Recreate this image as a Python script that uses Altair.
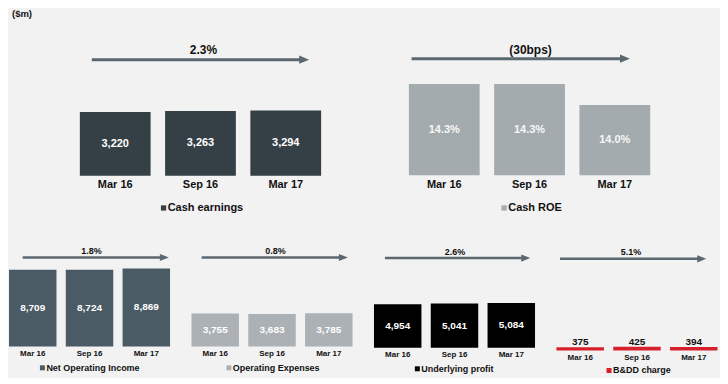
import altair as alt
import pandas as pd

# ---------------- data ----------------
PERIODS = ["Mar 16", "Sep 16", "Mar 17"]
CASH_EARNINGS = [3220, 3263, 3294]
CASH_ROE = [14.3, 14.3, 14.0]
NET_OPERATING_INCOME = [8709, 8724, 8869]
OPERATING_EXPENSES = [3755, 3683, 3785]
UNDERLYING_PROFIT = [4954, 5041, 5084]
BDD_CHARGE = [375, 425, 394]
CHANGES = ["2.3%", "(30bps)", "1.8%", "0.8%", "2.6%", "5.1%"]
SERIES_NAMES = ["Cash earnings", "Cash ROE", "Net Operating Income",
                "Operating Expenses", "Underlying profit", "B&DD charge"]
UNIT_NOTE = "($m)"

# ---------------- style ----------------
FONT = "Liberation Sans"
BG = "#f2f2f2"
ARROW = "#5b6870"
TEXT = "#111111"


def panel(name, values, change, color, *, width, height, ppu, baseline, base=0.0,
          pad_inner, pad_outer=0.0, align=0.5, pct=False,
          value_size, value_color="white", value_inside=True,
          cat_y, cat_size, legend_x, legend_y, legend_size, sq_size,
          arrow_x1, arrow_x2, arrow_y, change_x, change_y, change_size,
          head_size, head_ratio=0.8, arrow_width=3, note=None):
    df = pd.DataFrame({"period": PERIODS, "value": values})
    dmax = base + baseline / ppu
    dmin = base - (height - baseline) / ppu
    x = alt.X("period:N", sort=PERIODS, axis=None,
              scale=alt.Scale(paddingInner=pad_inner, paddingOuter=pad_outer,
                              align=align, round=False))
    yscale = alt.Scale(domain=[dmin, dmax], zero=False, nice=False)
    lab = "format(datum.value, '.1f') + '%'" if pct else "format(datum.value, ',')"
    src = alt.Chart(df).transform_calculate(
        label=lab, mid=f"(datum.value + {base}) / 2")

    bars = src.mark_bar(color=color).encode(
        x=x, y=alt.Y("value:Q", scale=yscale, axis=None), y2=alt.datum(base))

    if value_inside:
        vals = src.mark_text(font=FONT, fontWeight="bold", fontSize=value_size,
                             color=value_color).encode(
            x=x, y=alt.Y("mid:Q", scale=yscale, axis=None), text="label:N")
    else:
        vals = src.mark_text(font=FONT, fontWeight="bold", fontSize=value_size,
                             color=value_color, baseline="alphabetic", dy=-2).encode(
            x=x, y=alt.Y("value:Q", scale=yscale, axis=None), text="label:N")

    cats = src.mark_text(font=FONT, fontWeight="bold", fontSize=cat_size,
                         color=TEXT).encode(
        x=x, y=alt.value(cat_y), text="period:N")

    leg_df = alt.Chart(pd.DataFrame({"name": [name], "change": [change]}))
    sq = leg_df.mark_point(shape="square", filled=True, size=sq_size, color=color,
                           opacity=1, strokeWidth=0).encode(
        x=alt.value(legend_x), y=alt.value(legend_y))
    leg_text = leg_df.mark_text(font=FONT, fontWeight="bold", fontSize=legend_size,
                                color=TEXT, align="left").encode(
        x=alt.value(legend_x + (sq_size ** 0.5) / 2 + 1.5),
        y=alt.value(legend_y), text="name:N")

    head_w = head_size ** 0.5
    rule = leg_df.mark_rule(color=ARROW, strokeWidth=arrow_width).encode(
        x=alt.value(arrow_x1), x2=alt.value(arrow_x2 - head_w + 1), y=alt.value(arrow_y))
    head = leg_df.mark_point(shape=f"M-1,-{head_ratio}L1,0L-1,{head_ratio}Z",
                             filled=True, size=head_size, color=ARROW, opacity=1,
                             strokeWidth=0).encode(
        x=alt.value(arrow_x2 - head_w / 2), y=alt.value(arrow_y))
    chg = leg_df.mark_text(font=FONT, fontWeight="bold", fontSize=change_size,
                           color=TEXT).encode(
        x=alt.value(change_x), y=alt.value(change_y), text="change:N")

    layers = [bars, vals, cats, sq, leg_text, rule, head, chg]
    if note is not None:
        note_c = alt.Chart(pd.DataFrame({"note": [note]})).mark_text(
            font=FONT, fontWeight="bold", fontSize=9.5, color=TEXT, align="left").encode(
            x=alt.value(3), y=alt.value(6), text="note:N")
        layers.append(note_c)
    return alt.layer(*layers).properties(width=width, height=height)


TOP_H = 208
BOT_H = 134
BOT_W = 161.5
BOT_PPU = 0.00884

tl = panel(SERIES_NAMES[0], CASH_EARNINGS, CHANGES[0], "#353f46",
           width=313, height=TOP_H, ppu=64 / 3220, baseline=167.7,
           pad_inner=0.17, pad_outer=0.4155, align=1,
           value_size=11, cat_y=177, cat_size=11,
           legend_x=155, legend_y=200, legend_size=11, sq_size=28,
           arrow_x1=83, arrow_x2=301, arrow_y=51.3, change_x=195, change_y=41.5,
           change_size=12, head_size=100, head_ratio=0.84, note=UNIT_NOTE)

tr = panel(SERIES_NAMES[1], CASH_ROE, CHANGES[1], "#a4abaf",
           width=242, height=TOP_H, ppu=70.5, baseline=167.3, base=13.0,
           pad_inner=0.17, pct=True,
           value_size=11, value_color="#f7f7f7", cat_y=177, cat_size=11,
           legend_x=95.5, legend_y=200, legend_size=11, sq_size=28,
           arrow_x1=2.7, arrow_x2=221.7, arrow_y=50.3, change_x=122, change_y=41.5,
           change_size=12, head_size=100, head_ratio=0.84)

ba = panel(SERIES_NAMES[2], NET_OPERATING_INCOME, CHANGES[2], "#4b5b65",
           width=BOT_W, height=BOT_H, ppu=BOT_PPU, baseline=103, pad_inner=0.164,
           value_size=10, cat_y=110.5, cat_size=8,
           legend_x=33.5, legend_y=124.3, legend_size=9, sq_size=25,
           arrow_x1=13.7, arrow_x2=160.3, arrow_y=13.7, change_x=82.7, change_y=7,
           change_size=9, head_size=81, arrow_width=2.5)

bb = panel(SERIES_NAMES[3], OPERATING_EXPENSES, CHANGES[3], "#abb1b5",
           width=BOT_W, height=BOT_H, ppu=BOT_PPU, baseline=103, pad_inner=0.164,
           value_size=10, cat_y=110.5, cat_size=8,
           legend_x=37.5, legend_y=124.3, legend_size=9, sq_size=25,
           arrow_x1=10.2, arrow_x2=156.8, arrow_y=13.7, change_x=84.2, change_y=7,
           change_size=9, head_size=81, arrow_width=2.5)

bc = panel(SERIES_NAMES[4], UNDERLYING_PROFIT, CHANGES[4], "#000000",
           width=BOT_W, height=BOT_H, ppu=BOT_PPU, baseline=104.3, pad_inner=0.164,
           value_size=10, cat_y=111.7, cat_size=8,
           legend_x=43.5, legend_y=125.3, legend_size=9, sq_size=25,
           arrow_x1=11, arrow_x2=156.7, arrow_y=14.3, change_x=81.2, change_y=7.7,
           change_size=9, head_size=81, arrow_width=2.5)

bd = panel(SERIES_NAMES[5], BDD_CHARGE, CHANGES[5], "#d7202b",
           width=BOT_W, height=BOT_H, ppu=BOT_PPU, baseline=107, pad_inner=0.164,
           value_size=10, value_color=TEXT, value_inside=False, cat_y=114.3, cat_size=8,
           legend_x=52.7, legend_y=127, legend_size=9, sq_size=25,
           arrow_x1=3.5, arrow_x2=150.2, arrow_y=15, change_x=74.8, change_y=8,
           change_size=9, head_size=81, arrow_width=2.5)

top = alt.hconcat(tl, tr, spacing=88)
bottom = alt.hconcat(ba, bb, bc, bd, spacing=21)

chart = alt.vconcat(top, bottom, spacing=28).properties(
    background=BG,
    padding={"left": 1, "top": 0, "right": 2, "bottom": 0},
).configure_view(stroke=None)

chart.save("out.html", embed_options={"renderer": "svg", "actions": False})
